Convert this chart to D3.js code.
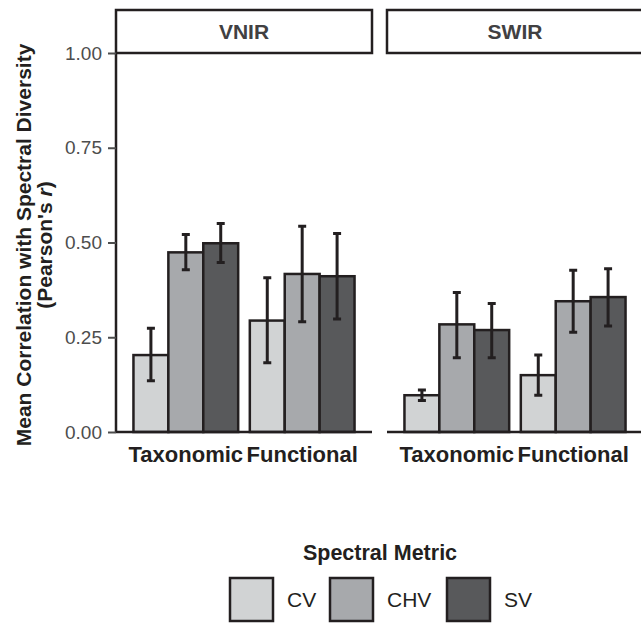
<!DOCTYPE html>
<html>
<head>
<meta charset="utf-8">
<script src="https://cdn.jsdelivr.net/npm/d3@7"></script>
<style>
  body { margin: 0; background: #fff; }
  svg { display: block; font-family: "Liberation Sans", Arial, sans-serif; }
</style>
</head>
<body>
<div id="chart"></div>
<script>
// data
const panels = ['VNIR', 'SWIR'];
const diversityTypes = ['Taxonomic', 'Functional'];
const metrics = ['CV', 'CHV', 'SV'];
const metricColors = ['#d1d3d4', '#a7a9ac', '#58595b'];
const yTicks = [0, 0.25, 0.5, 0.75, 1];

// mean r, order: panel -> diversity type -> metric
const meanR = [
    [[0.203, 0.474, 0.498], [0.294, 0.417, 0.411]],
    [[0.097, 0.284, 0.269], [0.150, 0.345, 0.356]]
];
const lowerR = [
    [[0.135, 0.428, 0.447], [0.183, 0.291, 0.298]],
    [[0.083, 0.196, 0.196], [0.097, 0.263, 0.280]]
];
const upperR = [
    [[0.274, 0.521, 0.550], [0.407, 0.543, 0.524]],
    [[0.111, 0.368, 0.339], [0.203, 0.427, 0.431]]
];

const width = 641, height = 625;
const panelLeft = [116, 387];
const panelWidth = 256;
const panelTop = 53, panelBottom = 432;
const stripTop = 10;
const ink = '#231f20';

const svg = d3.select('#chart')
    .append('svg')
    .attr('width', width)
    .attr('height', height);

const y = d3.scaleLinear().domain([0, 1]).range([panelBottom, panelTop]);

const x = d3.scaleBand()
    .domain(diversityTypes)
    .range([0, panelWidth])
    .paddingInner(0.1)
    .paddingOuter(0.15);

const xMetric = d3.scaleBand()
    .domain(metrics)
    .range([0, x.bandwidth()]);

const color = d3.scaleOrdinal().domain(metrics).range(metricColors);

// flatten into rows for drawing
const rows = [];
panels.forEach((p, pi) => {
    diversityTypes.forEach((t, ti) => {
        metrics.forEach((m, mi) => {
            rows.push({
                panel: p, pi: pi, type: t, metric: m,
                value: meanR[pi][ti][mi],
                lo: lowerR[pi][ti][mi],
                hi: upperR[pi][ti][mi]
            });
        });
    });
});

panels.forEach((p, pi) => {
    const g = svg.append('g')
        .attr('transform', `translate(${panelLeft[pi]},0)`);

    // strip
    g.append('rect')
        .attr('x', 0)
        .attr('y', stripTop)
        .attr('width', panelWidth)
        .attr('height', panelTop - stripTop)
        .attr('fill', '#fff')
        .attr('stroke', ink)
        .attr('stroke-width', 2.5);

    g.append('text')
        .attr('x', panelWidth / 2)
        .attr('y', (stripTop + panelTop) / 2)
        .attr('dy', '0.36em')
        .attr('text-anchor', 'middle')
        .attr('font-size', '21px')
        .attr('font-weight', 'bold')
        .attr('fill', '#414042')
        .text(p);

    const data = rows.filter(d => d.pi === pi);

    // bars
    g.selectAll('.bar')
        .data(data)
        .join('rect')
        .attr('class', 'bar')
        .attr('x', d => x(d.type) + xMetric(d.metric))
        .attr('y', d => y(d.value))
        .attr('width', xMetric.bandwidth())
        .attr('height', d => y(0) - y(d.value))
        .attr('fill', d => color(d.metric))
        .attr('stroke', ink)
        .attr('stroke-width', 2.5);

    // error bars
    const cx = d => x(d.type) + xMetric(d.metric) + xMetric.bandwidth() / 2;
    const cap = 4;
    g.selectAll('.err')
        .data(data)
        .join('path')
        .attr('class', 'err')
        .attr('fill', 'none')
        .attr('stroke', ink)
        .attr('stroke-width', 3)
        .attr('d', d => `M${cx(d) - cap},${y(d.hi)}H${cx(d) + cap}` +
            `M${cx(d)},${y(d.hi)}V${y(d.lo)}` +
            `M${cx(d) - cap},${y(d.lo)}H${cx(d) + cap}`);

    // x axis
    const xAxis = g.append('g')
        .attr('transform', `translate(0,${panelBottom})`)
        .call(d3.axisBottom(x).tickSize(0).tickPadding(14));
    xAxis.select('.domain')
        .attr('stroke', ink)
        .attr('stroke-width', 2.5)
        .attr('d', `M0,0H${panelWidth}`);
    xAxis.selectAll('text')
        .attr('font-size', '22px')
        .attr('font-weight', 'bold')
        .attr('fill', ink)
        .attr('font-family', '"Liberation Sans", Arial, sans-serif');

    // y axis only on first panel
    if (pi === 0) {
        const yAxis = g.append('g')
            .call(d3.axisLeft(y).tickValues(yTicks)
                .tickFormat(d3.format('.2f'))
                .tickSize(8).tickPadding(6));
        yAxis.select('.domain')
            .attr('stroke', ink)
            .attr('stroke-width', 2.5)
            .attr('d', `M0,${panelTop}V${panelBottom}`);
        yAxis.selectAll('.tick line')
            .attr('stroke', '#4d4d4d')
            .attr('stroke-width', 2);
        yAxis.selectAll('.tick text')
            .attr('font-size', '19px')
            .attr('fill', '#4d4d4d')
            .attr('font-family', '"Liberation Sans", Arial, sans-serif');
    }
});

// y axis title (two lines)
const yTitle = svg.append('text')
    .attr('transform', `translate(0,245) rotate(-90)`)
    .attr('text-anchor', 'middle')
    .attr('font-size', '21px')
    .attr('font-weight', 'bold')
    .attr('fill', ink);
yTitle.append('tspan')
    .attr('x', 0)
    .attr('y', 31)
    .text('Mean Correlation with Spectral Diversity');
const line2 = yTitle.append('tspan')
    .attr('x', 0)
    .attr('y', 52);
line2.append('tspan').text("(Pearson's ");
line2.append('tspan').attr('font-style', 'italic').text('r');
line2.append('tspan').text(')');

// legend
const legend = svg.append('g');
legend.append('text')
    .attr('x', 380)
    .attr('y', 560)
    .attr('text-anchor', 'middle')
    .attr('font-size', '21.5px')
    .attr('font-weight', 'bold')
    .attr('fill', ink)
    .text('Spectral Metric');

const keyX = [230, 330, 447];
const keySize = 43;
const keys = legend.selectAll('.key')
    .data(metrics)
    .join('g')
    .attr('class', 'key')
    .attr('transform', (d, i) => `translate(${keyX[i]},578)`);

keys.append('rect')
    .attr('width', keySize)
    .attr('height', keySize)
    .attr('fill', d => color(d))
    .attr('stroke', ink)
    .attr('stroke-width', 2.5);

keys.append('text')
    .attr('x', keySize + 14)
    .attr('y', keySize / 2)
    .attr('dy', '0.36em')
    .attr('font-size', '21px')
    .attr('fill', ink)
    .text(d => d);
</script>
</body>
</html>
